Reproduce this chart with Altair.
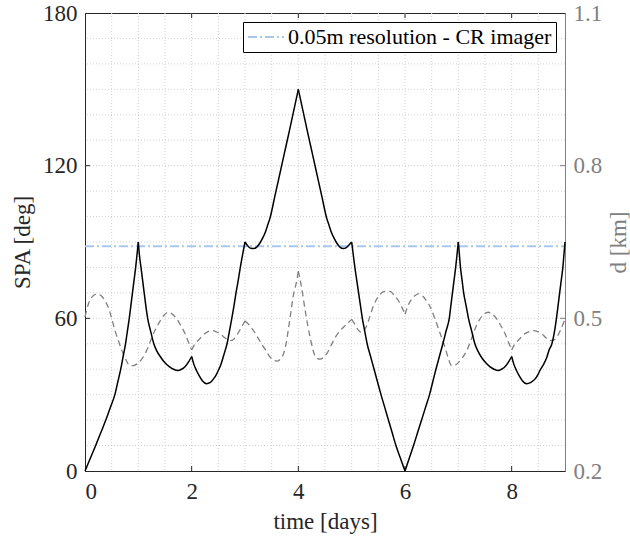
import altair as alt
import pandas as pd

# ---------------- data ----------------
t_spa = [0.00, 0.10, 0.20, 0.295, 0.39, 0.475, 0.56, 0.615, 0.67, 0.715, 0.76, 0.795, 0.83, 0.86, 0.89, 0.92, 0.95, 0.975, 1.00,
         1.02, 1.05, 1.08, 1.11, 1.14, 1.175, 1.23, 1.29, 1.35, 1.41, 1.50, 1.58, 1.66, 1.74, 1.81, 1.875, 1.94, 2.00,
         2.04, 2.09, 2.14, 2.20, 2.28, 2.35, 2.41, 2.46, 2.50, 2.55, 2.59, 2.63, 2.66, 2.70, 2.75, 2.79, 2.83, 2.87, 2.91, 2.955, 3.00,
         3.05, 3.10, 3.16, 3.22, 3.28, 3.33, 3.375, 3.42, 3.47, 3.56, 3.65, 3.74, 3.83, 3.915, 4.00,
         4.085, 4.17, 4.26, 4.35, 4.44, 4.53, 4.58, 4.625, 4.67, 4.72, 4.78, 4.84, 4.90, 4.95, 5.00,
         5.03, 5.06, 5.095, 5.13, 5.165, 5.20, 5.245, 5.29, 5.355, 5.42, 5.485, 5.55, 5.62, 5.69, 5.76, 5.83, 5.915, 6.00,
         6.08, 6.16, 6.235, 6.31, 6.385, 6.46, 6.52, 6.58, 6.645, 6.71, 6.77, 6.83, 6.86, 6.89, 6.92, 6.95, 6.975, 7.00,
         7.02, 7.04, 7.07, 7.10, 7.145, 7.19, 7.25, 7.31, 7.37, 7.44, 7.515, 7.59, 7.67, 7.75, 7.81, 7.875, 7.94, 8.00,
         8.04, 8.09, 8.14, 8.20, 8.28, 8.36, 8.44, 8.49, 8.53, 8.60, 8.66, 8.70, 8.75, 8.80, 8.84, 8.87, 8.90, 8.93, 8.96, 8.98, 9.00]
spa = [0, 5, 10, 15, 20, 25, 30, 35, 40, 45, 50, 55, 60, 65, 70, 75, 80, 85, 90,
       85, 80, 75, 70, 65, 60, 55, 50, 47, 45, 42.5, 41, 40, 39.5, 40, 41, 42.8, 45,
       42, 39.5, 37.5, 35.5, 34.3, 34.8, 36.2, 37.8, 39.5, 42, 44.7, 47.5, 49.7, 54, 59.7, 64.5, 69.8, 74.5, 79.7, 85, 90,
       88.5, 87.6, 87.4, 88, 89.6, 91.5, 93.5, 96.3, 99.5, 108, 116.5, 125, 133.5, 141.7, 150,
       141.7, 133.5, 125, 116.5, 108, 99.5, 96.3, 93.5, 91.5, 89.6, 88, 87.4, 87.8, 88.8, 90,
       85, 80, 75, 70, 65, 60, 55, 50, 45, 40, 35, 30, 25, 20, 15, 10, 5, 0,
       5, 10, 15, 20, 25, 30, 35, 40, 45, 50, 55, 60, 65, 70, 75, 80, 85, 90,
       85, 80, 75, 70, 65, 60, 55, 50, 47, 44.5, 42.5, 41, 40, 39.5, 40, 41, 42.8, 45,
       42, 39.5, 37.5, 35.5, 34.3, 34.8, 36.2, 37.8, 39.5, 42, 44.7, 47.5, 49.7, 54.5, 60, 65, 70, 75, 80, 85, 90]

t_d = [0.00, 0.07, 0.14, 0.22, 0.30, 0.37, 0.44, 0.50, 0.56, 0.63, 0.69, 0.77, 0.84, 0.90, 0.97, 1.05, 1.125, 1.19, 1.25,
       1.33, 1.41, 1.50, 1.56, 1.64, 1.72, 1.80, 1.875, 1.94, 2.00, 2.05, 2.09, 2.16, 2.25, 2.31, 2.375, 2.45, 2.53,
       2.62, 2.72, 2.79, 2.84, 2.92, 3.00, 3.08, 3.16, 3.24, 3.31, 3.39, 3.47, 3.55, 3.61, 3.67, 3.72, 3.77, 3.81,
       3.86, 3.90, 3.97, 4.00, 4.06, 4.14, 4.22, 4.31, 4.36, 4.41, 4.47, 4.53, 4.61, 4.69, 4.77, 4.84, 4.92, 5.00,
       5.05, 5.09, 5.14, 5.19, 5.23, 5.28, 5.34, 5.41, 5.47, 5.53, 5.62, 5.72, 5.80, 5.875, 5.94, 6.00, 6.07, 6.125,
       6.19, 6.25, 6.33, 6.40, 6.47, 6.53, 6.60, 6.66, 6.75, 6.81, 6.875, 6.94, 7.00, 7.08, 7.16, 7.22, 7.28, 7.34,
       7.40, 7.48, 7.56, 7.64, 7.72, 7.80, 7.875, 7.94, 8.00, 8.05, 8.09, 8.17, 8.25, 8.33, 8.41, 8.49, 8.56, 8.64,
       8.72, 8.78, 8.84, 8.92, 9.00]
d_km = [0.503, 0.530, 0.543, 0.548, 0.545, 0.535, 0.521, 0.500, 0.477, 0.455, 0.437, 0.418, 0.407, 0.407, 0.410, 0.418, 0.430, 0.445, 0.462,
        0.480, 0.495, 0.508, 0.512, 0.508, 0.499, 0.485, 0.470, 0.453, 0.438, 0.448, 0.453, 0.461, 0.470, 0.474, 0.476, 0.474, 0.470,
        0.462, 0.456, 0.459, 0.466, 0.480, 0.495, 0.487, 0.476, 0.462, 0.450, 0.437, 0.424, 0.417, 0.416, 0.421, 0.430, 0.450, 0.476,
        0.512, 0.541, 0.574, 0.593, 0.561, 0.508, 0.463, 0.427, 0.421, 0.420, 0.423, 0.430, 0.446, 0.462, 0.474, 0.482, 0.490, 0.498,
        0.490, 0.482, 0.475, 0.472, 0.476, 0.485, 0.503, 0.525, 0.538, 0.547, 0.553, 0.553, 0.545, 0.535, 0.522, 0.508, 0.528, 0.538,
        0.545, 0.548, 0.544, 0.535, 0.523, 0.508, 0.488, 0.470, 0.443, 0.422, 0.407, 0.408, 0.413, 0.423, 0.437, 0.452, 0.470, 0.486,
        0.498, 0.508, 0.512, 0.508, 0.499, 0.485, 0.470, 0.453, 0.438, 0.448, 0.453, 0.462, 0.470, 0.474, 0.476, 0.474, 0.470, 0.462,
        0.456, 0.457, 0.462, 0.478, 0.498]

# days at which the curves have a corner (cusp)
spa_cusps = [1, 2, 3, 4, 5, 6, 7, 8]
d_cusps = [2, 3, 4, 5, 6, 8]

t_res = [0, 9]
spa_res = [88.3, 88.3]
res_label = ["0.05m resolution - CR imager", "0.05m resolution - CR imager"]

x_ticks = [0, 2, 4, 6, 8]
y_left_ticks = [0, 60, 120, 180]
y_right_ticks = [0.2, 0.5, 0.8, 1.1]
x_grid = [0.5, 1, 1.5, 2, 2.5, 3, 3.5, 4, 4.5, 5, 5.5, 6, 6.5, 7, 7.5, 8, 8.5]
y_grid = [10, 20, 30, 40, 50, 60, 70, 80, 90, 100, 110, 120, 130, 140, 150, 160, 170]

# ---------------- style ----------------
FONT = "Liberation Serif"
DARK = "#262626"
GRAY = "#808080"
BLUE = "#a9c6ef"
GRID = "#d2d2d2"
W, H = 480, 458


def segmented(ts, vs, cusps):
    """Split a curve into smooth pieces at its corners (corner points shared)."""
    rows = []
    for t, v in zip(ts, vs):
        seg = sum(1 for c in cusps if c < t)
        rows.append({"t": t, "v": v, "seg": seg})
        if t in cusps:
            rows.append({"t": t, "v": v, "seg": seg + 1})
    return pd.DataFrame(rows)


xs = alt.Scale(domain=[0, 9], nice=False, zero=False)
ysl = alt.Scale(domain=[0, 180], nice=False, zero=False)
ysr = alt.Scale(domain=[0.2, 1.1], nice=False, zero=False)

x_axis = alt.Axis(values=x_ticks, format="d", title="time [days]", grid=False, ticks=False,
                  domainColor=DARK, labelColor=DARK, titleColor=DARK, labelPadding=9, titlePadding=7,
                  labelFont=FONT, titleFont=FONT, labelFontSize=23, titleFontSize=23, titleFontWeight="normal")
yl_axis = alt.Axis(values=y_left_ticks, format="d", title="SPA [deg]", grid=False, ticks=False,
                   domainColor=DARK, labelColor=DARK, titleColor=DARK, labelPadding=8, titlePadding=8,
                   labelFont=FONT, titleFont=FONT, labelFontSize=23, titleFontSize=23, titleFontWeight="normal")
yr_axis = alt.Axis(values=y_right_ticks, format=".1f", title="d [km]", orient="right", grid=False, ticks=False,
                   domainColor=GRAY, labelColor=GRAY, titleColor=GRAY, labelPadding=8, titlePadding=6,
                   titleAngle=270, titleBaseline="top",
                   labelFont=FONT, titleFont=FONT, labelFontSize=23, titleFontSize=23, titleFontWeight="normal")

X = lambda f: alt.X(f, scale=xs, axis=x_axis)
YL = lambda f: alt.Y(f, scale=ysl, axis=yl_axis)
YR = lambda f: alt.Y(f, scale=ysr, axis=yr_axis)

df_spa = segmented(t_spa, spa, spa_cusps)
df_d = segmented(t_d, d_km, d_cusps)
df_res = pd.DataFrame({"t": t_res, "v": spa_res, "name": res_label})
df_xg = pd.DataFrame({"t": x_grid})
df_yg = pd.DataFrame({"v": y_grid})
df_xt = pd.DataFrame({"t": x_ticks[1:]})
df_ylt = pd.DataFrame({"v": y_left_ticks[1:-1]})
df_yrt = pd.DataFrame({"v": y_right_ticks[1:-1]})

grid_x = alt.Chart(df_xg).mark_rule(color=GRID, strokeDash=[1, 2], strokeWidth=1).encode(x=X("t:Q"))
grid_y = alt.Chart(df_yg).mark_rule(color=GRID, strokeDash=[1, 2], strokeWidth=1).encode(y=YL("v:Q"))

res_line = alt.Chart(df_res).mark_line(strokeDash=[9, 3, 2, 3], strokeWidth=2).encode(
    x=X("t:Q"), y=YL("v:Q"),
    color=alt.Color("name:N", scale=alt.Scale(range=[BLUE]),
                    legend=alt.Legend(title=None, orient="top-right", offset=9,
                                      symbolType="M-1.8,0H1.8", symbolSize=400,
                                      symbolStrokeWidth=2, symbolDash=[9, 3, 2, 3],
                                      symbolOffset=8,
                                      labelFont=FONT, labelFontSize=22, labelColor="black",
                                      labelOffset=11, labelLimit=500,
                                      strokeColor="black", fillColor="white", padding=4, cornerRadius=0)))

bot_ticks = alt.Chart(df_xt).mark_rule(color=DARK).encode(x=X("t:Q"), y=alt.value(H), y2=alt.value(H - 5))
top_ticks = alt.Chart(df_xt).mark_rule(color=DARK).encode(x=X("t:Q"), y=alt.value(0), y2=alt.value(5))
left_ticks = alt.Chart(df_ylt).mark_rule(color=DARK).encode(y=YL("v:Q"), x=alt.value(0), x2=alt.value(5))

left_layer = alt.layer(grid_x, grid_y, res_line, bot_ticks, top_ticks, left_ticks)

d_line = alt.Chart(df_d).mark_line(color=GRAY, strokeDash=[6, 4], strokeWidth=1.3, interpolate="monotone").encode(
    x=X("t:Q"), y=YR("v:Q"), detail="seg:N")
right_ticks = alt.Chart(df_yrt).mark_rule(color=GRAY).encode(y=YR("v:Q"), x=alt.value(W), x2=alt.value(W - 5))
right_layer = alt.layer(d_line, right_ticks)

spa_line = alt.Chart(df_spa).mark_line(color="black", strokeWidth=1.5, interpolate="monotone").encode(
    x=X("t:Q"), y=alt.Y("v:Q", scale=ysl, axis=None), detail="seg:N")

chart = alt.layer(left_layer, right_layer, spa_line).resolve_scale(y="independent").properties(
    width=W, height=H,
    padding={"left": 85, "top": 13, "right": 65, "bottom": 72},
    autosize=alt.AutoSizeParams(type="none"),
    background="white",
).configure_view(stroke=DARK, strokeWidth=1)

chart.save("out.html", embed_options={"renderer": "svg", "actions": False})
